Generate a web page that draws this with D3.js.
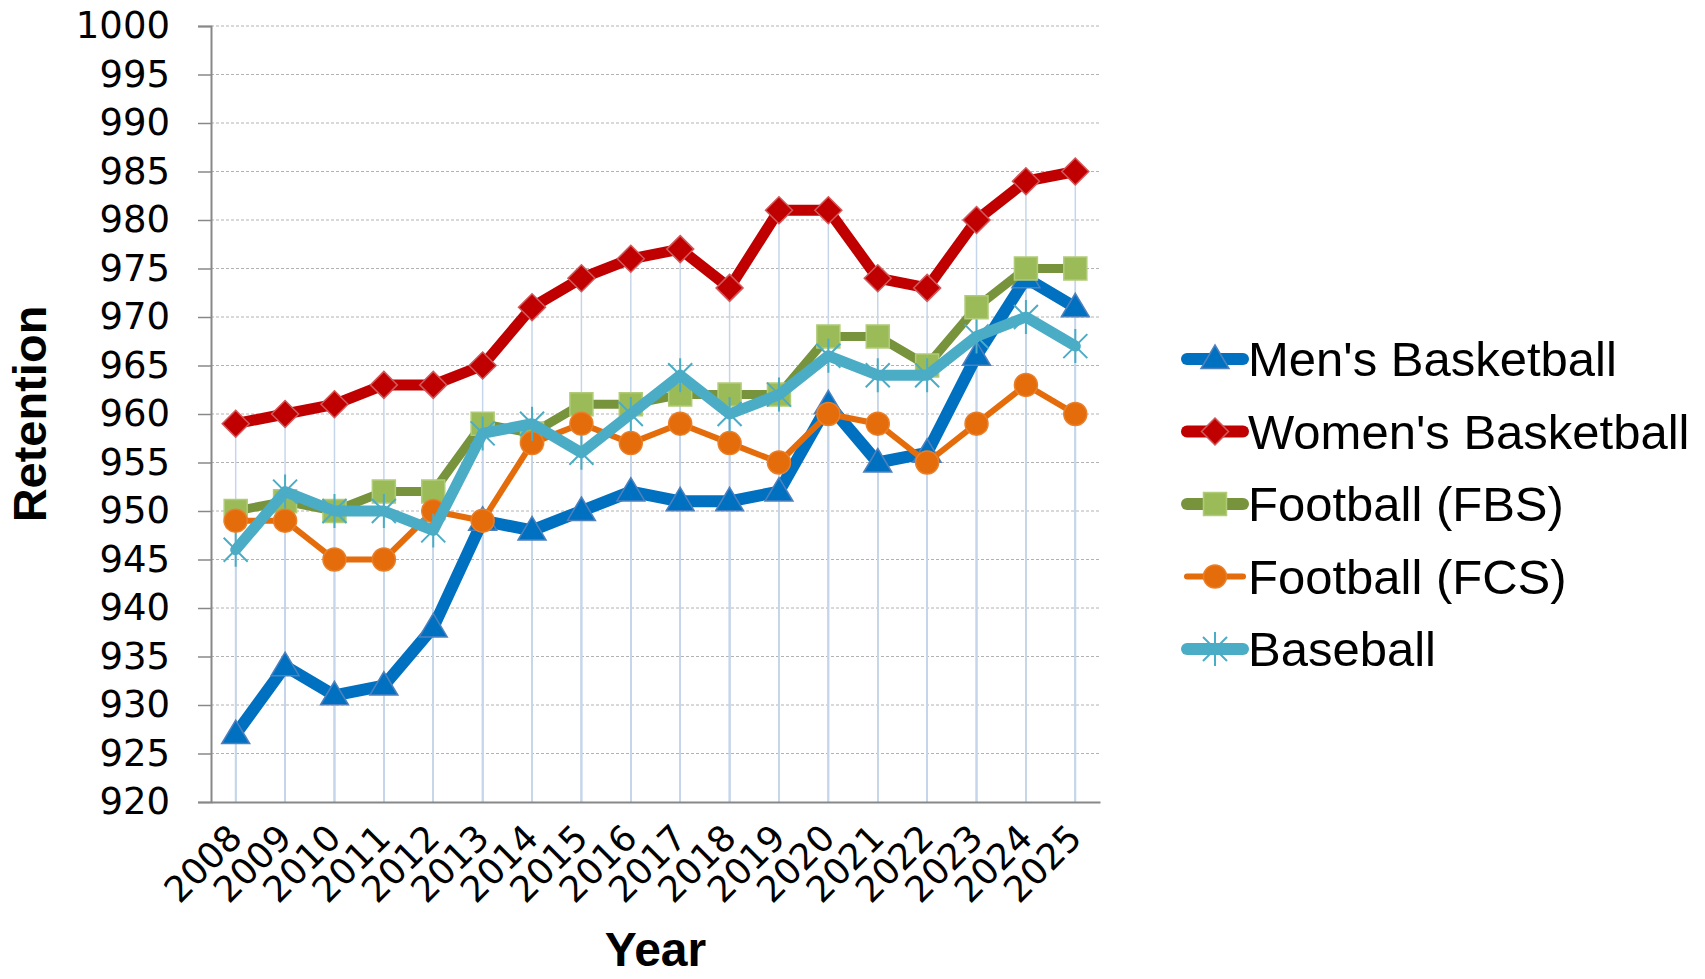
<!DOCTYPE html>
<html>
<head>
<meta charset="utf-8">
<script src="https://cdn.jsdelivr.net/npm/d3@7"></script>
<style>
  body { margin: 0; background: #ffffff; }
  svg { display: block; }
</style>
</head>
<body>
<script>
var years = ["2008", "2009", "2010", "2011", "2012", "2013", "2014", "2015", "2016",
  "2017", "2018", "2019", "2020", "2021", "2022", "2023", "2024", "2025"];
var mensBasketball = [927, 934, 931, 932, 938, 949, 948, 950, 952, 951, 951, 952, 961, 955, 956, 966, 974, 971];
var womensBasketball = [959, 960, 961, 963, 963, 965, 971, 974, 976, 977, 973, 981, 981, 974, 973, 980, 984, 985];
var footballFBS = [950, 951, 950, 952, 952, 959, 958, 961, 961, 962, 962, 962, 968, 968, 965, 971, 975, 975];
var footballFCS = [949, 949, 945, 945, 950, 949, 957, 959, 957, 959, 957, 955, 960, 959, 955, 959, 963, 960];
var baseball = [946, 952, 950, 950, 948, 958, 959, 956, 960, 964, 960, 962, 966, 964, 964, 968, 970, 967];
var yTicks = [920, 925, 930, 935, 940, 945, 950, 955, 960, 965, 970, 975, 980, 985, 990, 995, 1000];

var series = [
  { name: "Men's Basketball", values: mensBasketball, line: "#0070C0", width: 12, marker: "triangle", fill: "#0070C0", stroke: "#4F81BD" },
  { name: "Women's Basketball", values: womensBasketball, line: "#C00000", width: 11, marker: "diamond", fill: "#C00000", stroke: "#D0595B" },
  { name: "Football (FBS)", values: footballFBS, line: "#77933C", width: 9, marker: "square", fill: "#9BBB59", stroke: "#B0CC78" },
  { name: "Football (FCS)", values: footballFCS, line: "#E46C0A", width: 6, marker: "circle", fill: "#E46C0A", stroke: "#EA7F2A" },
  { name: "Baseball", values: baseball, line: "#4BACC6", width: 11, marker: "star", fill: "none", stroke: "#4BACC6" }
];

var svgWidth = 1705;
var svgHeight = 979;
var plot = { left: 211, right: 1100, top: 26, bottom: 802 };

var svg = d3.select("body").append("svg")
  .attr("width", svgWidth)
  .attr("height", svgHeight);

var x = d3.scalePoint().domain(years).range([plot.left, plot.right]).padding(0.5);
var y = d3.scaleLinear().domain([920, 1000]).range([plot.bottom, plot.top]);

// horizontal gridlines
svg.append("g").selectAll("line")
  .data(yTicks.slice(1))
  .enter().append("line")
  .attr("x1", plot.left).attr("x2", plot.right)
  .attr("y1", function (d) { return y(d); })
  .attr("y2", function (d) { return y(d); })
  .attr("stroke", "#B2B2B2")
  .attr("stroke-width", 1)
  .attr("stroke-dasharray", "3,2");

// drop lines from each point to the axis
series.forEach(function (s) {
  svg.append("g").selectAll("line")
    .data(s.values)
    .enter().append("line")
    .attr("x1", function (d, i) { return x(years[i]); })
    .attr("x2", function (d, i) { return x(years[i]); })
    .attr("y1", function (d) { return y(d); })
    .attr("y2", plot.bottom)
    .attr("stroke", "#C6D6EA")
    .attr("stroke-width", 1.5);
});

// y axis
var yAxis = d3.axisLeft(y).tickValues(yTicks).tickFormat(d3.format("d")).tickSize(13).tickPadding(28);
var yg = svg.append("g")
  .attr("transform", "translate(" + plot.left + ",0)")
  .call(yAxis);
yg.select(".domain").attr("stroke", "#888888").attr("stroke-width", 2);
yg.selectAll(".tick line").attr("stroke", "#888888").attr("stroke-width", 1.5);
yg.selectAll(".tick text")
  .style("font-family", "DejaVu Sans")
  .style("font-size", "37px")
  .attr("fill", "#000000");

// x axis
var xAxis = d3.axisBottom(x).tickSize(0).tickSizeOuter(0).tickPadding(0);
var xg = svg.append("g")
  .attr("transform", "translate(0," + plot.bottom + ")")
  .call(xAxis);
xg.select(".domain").attr("stroke", "#888888").attr("stroke-width", 2);
xg.selectAll(".tick text")
  .style("font-family", "DejaVu Sans")
  .style("font-size", "36px")
  .attr("fill", "#000000")
  .attr("text-anchor", "end")
  .attr("dy", null)
  .attr("y", null)
  .attr("transform", "translate(8,38) rotate(-45)");

// series lines
var line = d3.line()
  .x(function (d, i) { return x(years[i]); })
  .y(function (d) { return y(d); });

function markerPath(type) {
  if (type === "triangle") return "M0,-14 L14,9.5 L-14,9.5 Z";
  if (type === "diamond") return "M0,-13.5 L13.5,0 L0,13.5 L-13.5,0 Z";
  if (type === "square") return "M-11.5,-11.5 L11.5,-11.5 L11.5,11.5 L-11.5,11.5 Z";
  if (type === "circle") return d3.symbol().type(d3.symbolCircle).size(Math.PI * 11.5 * 11.5)();
  return "M-12,-12 L12,12 M-12,12 L12,-12 M0,-17 L0,17";
}

series.forEach(function (s) {
  var g = svg.append("g");
  g.append("path")
    .datum(s.values)
    .attr("d", line)
    .attr("fill", "none")
    .attr("stroke", s.line)
    .attr("stroke-width", s.width)
    .attr("stroke-linejoin", "round")
    .attr("stroke-linecap", "round");
  g.selectAll(".mk")
    .data(s.values)
    .enter().append("path")
    .attr("class", "mk")
    .attr("d", markerPath(s.marker))
    .attr("transform", function (d, i) {
      return "translate(" + x(years[i]) + "," + y(d) + ")";
    })
    .attr("fill", s.fill)
    .attr("stroke", s.stroke)
    .attr("stroke-width", s.marker === "star" ? 2 : 1.5);
});

// axis titles
svg.append("text")
  .attr("transform", "translate(46," + (plot.top + plot.bottom) / 2 + ") rotate(-90)")
  .attr("text-anchor", "middle")
  .style("font-family", "Liberation Sans")
  .style("font-size", "47px")
  .style("font-weight", "bold")
  .text("Retention");

svg.append("text")
  .attr("x", (plot.left + plot.right) / 2)
  .attr("y", 966)
  .attr("text-anchor", "middle")
  .style("font-family", "Liberation Sans")
  .style("font-size", "48px")
  .style("font-weight", "bold")
  .text("Year");

// legend
var legend = svg.append("g").selectAll("g")
  .data(series)
  .enter().append("g")
  .attr("transform", function (d, i) {
    return "translate(1215," + (359 + i * 72.5) + ")";
  });

legend.append("line")
  .attr("x1", -28).attr("x2", 28)
  .attr("stroke", function (d) { return d.line; })
  .attr("stroke-width", function (d) { return d.marker === "circle" ? 6 : 12; })
  .attr("stroke-linecap", "round");

legend.append("path")
  .attr("d", function (d) { return markerPath(d.marker); })
  .attr("fill", function (d) { return d.fill; })
  .attr("stroke", function (d) { return d.stroke; })
  .attr("stroke-width", function (d) { return d.marker === "star" ? 2 : 1.5; });

legend.append("text")
  .attr("x", 33)
  .attr("y", 17)
  .style("font-family", "Liberation Sans")
  .style("font-size", "49px")
  .text(function (d) { return d.name; });
</script>
</body>
</html>
